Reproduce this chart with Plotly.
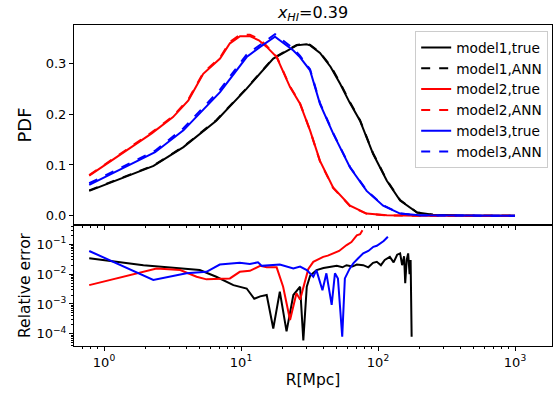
import plotly.graph_objects as go
from plotly.subplots import make_subplots

# ---------------- data ----------------
r_m1 = [0.78, 2.3, 3.8, 6.6, 11, 17.2, 25.5, 30, 32, 37.7, 45, 52.8, 62, 73.9, 92, 116, 145, 193, 252, 350, 500, 1000]
pdf_m1_true = [0.049, 0.098, 0.135, 0.187, 0.25, 0.309, 0.335, 0.337, 0.335, 0.32, 0.293, 0.26, 0.223, 0.187, 0.122, 0.069, 0.03, 0.0065, 0.002, 0.0005, 0.0, 0.0]
pdf_m1_ann = [0.050, 0.099, 0.136, 0.188, 0.251, 0.310, 0.336, 0.338, 0.336, 0.321, 0.295, 0.262, 0.225, 0.188, 0.123, 0.070, 0.031, 0.0066, 0.002, 0.0005, 0.0, 0.0]

r_m2 = [0.78, 2.23, 3.19, 4.13, 5.3, 7.03, 8.3, 9.84, 11.6, 13.5, 15.4, 18.2, 22.8, 26.9, 31.9, 37.7, 47, 62.5, 82.6, 116, 200, 1000]
pdf_m2_true = [0.079, 0.162, 0.194, 0.227, 0.279, 0.309, 0.339, 0.353, 0.353, 0.345, 0.332, 0.312, 0.253, 0.221, 0.168, 0.108, 0.056, 0.02, 0.0045, 0.001, 0.0, 0.0]
pdf_m2_ann = [0.080, 0.164, 0.196, 0.229, 0.281, 0.311, 0.342, 0.356, 0.356, 0.348, 0.334, 0.313, 0.254, 0.222, 0.168, 0.107, 0.055, 0.019, 0.004, 0.001, 0.0, 0.0]

r_m3 = [0.78, 2.36, 3.8, 7.03, 11, 13.8, 17.7, 24.1, 26.9, 31.9, 37.7, 47, 62.5, 82.6, 109, 145, 200, 1000]
pdf_m3_true = [0.061, 0.125, 0.168, 0.243, 0.312, 0.332, 0.352, 0.325, 0.312, 0.286, 0.22, 0.162, 0.095, 0.049, 0.02, 0.0045, 0.001, 0.0]
pdf_m3_ann = [0.064, 0.128, 0.172, 0.248, 0.317, 0.336, 0.357, 0.329, 0.315, 0.288, 0.222, 0.163, 0.096, 0.050, 0.021, 0.0046, 0.001, 0.0]

r_err1 = [0.78, 1.94, 5.0, 6.6, 8.8, 11, 12.5, 13.8, 15.4, 17.2, 19.2, 21.5, 24.1, 27, 28.5, 30.2, 32, 35.6, 40, 44.7, 50, 55, 58.9, 65, 70, 78, 85, 92, 98, 105, 112, 122, 130, 138, 145, 150, 155, 158, 162, 166, 170, 173, 176]
err_m1 = [0.034, 0.020, 0.0137, 0.0082, 0.0043, 0.0033, 0.0015, 0.0018, 0.002, 0.00015, 0.0026, 0.00012, 0.002, 0.0038, 0.00006, 0.0038, 0.009, 0.0137, 0.016, 0.0177, 0.019, 0.017, 0.02, 0.018, 0.021, 0.02, 0.017, 0.024, 0.026, 0.02, 0.03, 0.038, 0.025, 0.045, 0.05, 0.02, 0.04, 0.005, 0.03, 0.05, 0.01, 0.03, 0.00008]

r_err2 = [0.78, 2.42, 3.6, 4.74, 5.6, 8.3, 9.8, 11.6, 13.8, 15.4, 18.2, 20.3, 22.8, 25.4, 27, 29.3, 31, 33.7, 36, 39.8, 43, 47, 52, 59, 64, 70, 74, 77]
err_m2 = [0.0043, 0.0156, 0.0137, 0.0082, 0.0067, 0.0072, 0.012, 0.013, 0.019, 0.017, 0.017, 0.0038, 0.00029, 0.0023, 0.0014, 0.0063, 0.015, 0.026, 0.03, 0.038, 0.042, 0.05, 0.06, 0.095, 0.12, 0.2, 0.22, 0.3]

r_err3 = [0.78, 2.29, 4.0, 5.6, 7.0, 9.8, 11.6, 13.3, 14.2, 19.2, 24.1, 27, 30.2, 33.7, 35.5, 39.3, 42, 45.9, 48.5, 51, 54.8, 57.3, 62, 66, 72, 78, 85, 92.5, 98, 103, 110, 118]
err_m3 = [0.06, 0.0064, 0.0107, 0.012, 0.021, 0.024, 0.022, 0.025, 0.019, 0.021, 0.0156, 0.018, 0.0137, 0.0082, 0.0137, 0.0029, 0.0107, 0.00093, 0.0107, 0.0072, 0.00008, 0.0072, 0.015, 0.023, 0.035, 0.05, 0.06, 0.083, 0.09, 0.107, 0.13, 0.18]

x_major = [1, 10, 100, 1000]
x_major_text = ["10<sup>0</sup>", "10<sup>1</sup>", "10<sup>2</sup>", "10<sup>3</sup>"]
y_err_major = [1e-4, 1e-3, 1e-2, 1e-1]
y_err_text = ["10<sup>−4</sup>", "10<sup>−3</sup>", "10<sup>−2</sup>", "10<sup>−1</sup>"]
pdf_ticks = [0.0, 0.1, 0.2, 0.3]

# ---------------- figure ----------------
FONT = "DejaVu Sans"
fig = make_subplots(rows=2, cols=1, shared_xaxes=True, vertical_spacing=0,
                    row_heights=[200 / 321, 121 / 321])

models = [
    ("model1", "black", r_m1, pdf_m1_true, pdf_m1_ann, r_err1, err_m1),
    ("model2", "red", r_m2, pdf_m2_true, pdf_m2_ann, r_err2, err_m2),
    ("model3", "blue", r_m3, pdf_m3_true, pdf_m3_ann, r_err3, err_m3),
]
for name, col, r, pt, pa, re, ev in models:
    fig.add_trace(go.Scatter(x=r, y=pt, mode="lines", name=name + ",true",
                             line=dict(color=col, width=2)), row=1, col=1)
    fig.add_trace(go.Scatter(x=r, y=pa, mode="lines", name=name + ",ANN",
                             line=dict(color=col, width=2, dash="dash")), row=1, col=1)
for name, col, r, pt, pa, re, ev in models:
    fig.add_trace(go.Scatter(x=re, y=ev, mode="lines", showlegend=False,
                             line=dict(color=col, width=2)), row=2, col=1)

minor_x = [m * 10 ** e for e in range(-1, 4) for m in range(2, 10)]
minor_y = [m * 10 ** e for e in range(-5, 0) for m in range(2, 10)]

axis_common = dict(showline=True, linecolor="black", linewidth=1, mirror=True,
                   showgrid=False, zeroline=False, ticks="outside", tickcolor="black",
                   ticklen=4, tickfont=dict(family=FONT, size=13, color="black"))

xr = [-0.219, 3.27]
fig.update_xaxes(type="log", range=xr, tickvals=x_major, ticktext=x_major_text,
                 minor=dict(tickvals=minor_x, ticks="outside", ticklen=2, tickcolor="black"),
                 **axis_common)
fig.update_xaxes(showticklabels=False, row=1, col=1)
fig.update_xaxes(title=dict(text="R[Mpc]", font=dict(family=FONT, size=15.5, color="black"), standoff=5),
                 row=2, col=1)

fig.update_yaxes(range=[-0.018, 0.375], tickvals=pdf_ticks, ticktext=["0.0", "0.1", "0.2", "0.3"],
                 title=dict(text="PDF", font=dict(family=FONT, size=18, color="black"), standoff=9),
                 row=1, col=1, **axis_common)
fig.update_yaxes(type="log", range=[-4.41, -0.35], tickvals=y_err_major, ticktext=y_err_text,
                 minor=dict(tickvals=minor_y, ticks="outside", ticklen=2, tickcolor="black"),
                 title=dict(text="Relative error", font=dict(family=FONT, size=15.5, color="black"), standoff=2),
                 row=2, col=1, **axis_common)

fig.update_layout(
    width=554, height=399,
    margin=dict(l=74, r=2, t=25, b=53),
    paper_bgcolor="white", plot_bgcolor="white",
    font=dict(family=FONT, color="black"),
    title=dict(text="<i>x</i><sub><i>HI</i></sub>=0.39", x=313 / 554, xanchor="center",
               y=1 - 12 / 399, yanchor="middle", font=dict(family=FONT, size=16, color="black")),
    legend=dict(x=0.992, xanchor="right", y=0.981, yanchor="top",
                bgcolor="rgba(255,255,255,0.85)", bordercolor="#cccccc", borderwidth=1,
                font=dict(family=FONT, size=13.7, color="black"), tracegroupgap=0,
                itemwidth=30),
    showlegend=True,
)

fig.write_html("out.html")
